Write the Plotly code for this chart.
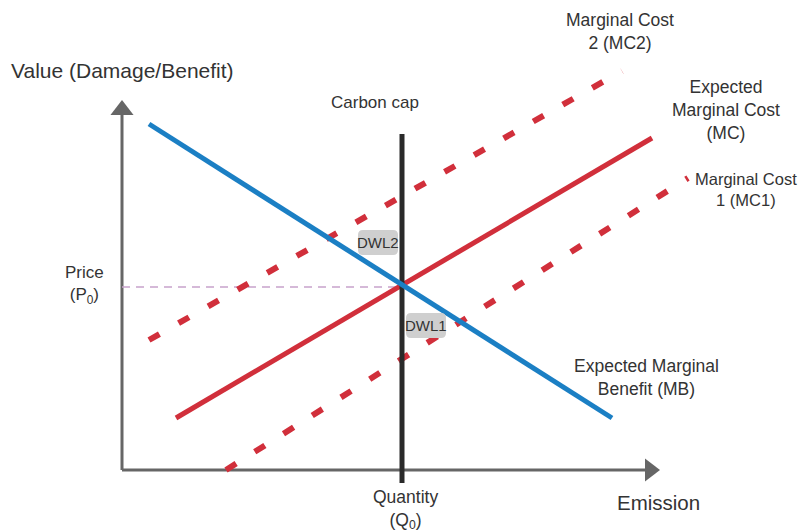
import plotly.graph_objects as go

# Diagram coordinate system (x to the right, y downward, canvas units)
W, H = 809, 531
PAGE_MARGIN = 8  # default body margin of the html page
FONT = "Liberation Sans, Arial, sans-serif"
TXT = "#333333"
RED = "#d12f3b"
BLUE = "#1b7fc4"
GRAY = "#666666"

# Axes (origin and arrow tips)
axis_origin = (122, 470)
x_axis_end = 648
y_axis_end = 112

# Curves: endpoints [x0, x1], [y0, y1]
mb_x, mb_y = [149, 612], [124, 418]          # Expected Marginal Benefit
mc_x, mc_y = [176, 652], [418, 138]          # Expected Marginal Cost
mc2_x, mc2_y = [149, 622], [340, 71]         # Marginal Cost 2
mc1_x, mc1_y = [226, 688], [470, 178]        # Marginal Cost 1
cap_x, cap_y = [402, 402], [134, 483]        # Carbon cap
price_x, price_y = [122, 402], [287, 287]    # Price P0

fig = go.Figure()

# axes lines
fig.add_trace(go.Scatter(x=[axis_origin[0], x_axis_end], y=[axis_origin[1], axis_origin[1]],
                         mode="lines", line=dict(color=GRAY, width=3), hoverinfo="skip"))
fig.add_trace(go.Scatter(x=[axis_origin[0], axis_origin[0]], y=[axis_origin[1], y_axis_end],
                         mode="lines", line=dict(color=GRAY, width=3), hoverinfo="skip"))
# arrow heads
fig.add_trace(go.Scatter(x=[x_axis_end + 2], y=[axis_origin[1]], mode="markers",
                         marker=dict(symbol="triangle-right", size=20, color=GRAY), hoverinfo="skip"))
fig.add_trace(go.Scatter(x=[axis_origin[0]], y=[y_axis_end - 2], mode="markers",
                         marker=dict(symbol="triangle-up", size=20, color=GRAY), hoverinfo="skip"))

# price dashed line
fig.add_trace(go.Scatter(x=price_x, y=price_y, mode="lines",
                         line=dict(color="#c8a2cc", width=1.5, dash="8px,6px"), hoverinfo="skip"))
# MC2, MC1 dashed
fig.add_trace(go.Scatter(x=mc2_x, y=mc2_y, mode="lines",
                         line=dict(color=RED, width=6, dash="12px,22px"), hoverinfo="skip"))
fig.add_trace(go.Scatter(x=mc1_x, y=mc1_y, mode="lines",
                         line=dict(color=RED, width=6, dash="12px,22px"), hoverinfo="skip"))
# MC solid
fig.add_trace(go.Scatter(x=mc_x, y=mc_y, mode="lines",
                         line=dict(color=RED, width=5), hoverinfo="skip"))
# Carbon cap
fig.add_trace(go.Scatter(x=cap_x, y=cap_y, mode="lines",
                         line=dict(color="#2a2a2a", width=5), hoverinfo="skip"))
# MB
fig.add_trace(go.Scatter(x=mb_x, y=mb_y, mode="lines",
                         line=dict(color=BLUE, width=5), hoverinfo="skip"))


def rounded_box(x0, y0, x1, y1, r=5):
    return (f"M {x0+r},{y0} L {x1-r},{y0} Q {x1},{y0} {x1},{y0+r} "
            f"L {x1},{y1-r} Q {x1},{y1} {x1-r},{y1} L {x0+r},{y1} "
            f"Q {x0},{y1} {x0},{y1-r} L {x0},{y0+r} Q {x0},{y0} {x0+r},{y0} Z")


dwl_labels = ["DWL2", "DWL1"]
dwl_boxes = [(358, 230, 398, 255), (406, 313, 446, 338)]
for lab, (x0, y0, x1, y1) in zip(dwl_labels, dwl_boxes):
    fig.add_shape(type="path", path=rounded_box(x0, y0, x1, y1), xref="x", yref="y",
                  fillcolor="#cfcfcf", line=dict(width=0), layer="above")
    fig.add_annotation(x=(x0 + x1) / 2, y=(y0 + y1) / 2, text=lab, showarrow=False,
                       font=dict(family=FONT, size=15, color=TXT))

labels = [
    ("Value (Damage/Benefit)", 122, 70, 21),
    ("Carbon cap", 375, 102, 17),
    ("Marginal Cost<br>2 (MC2)", 620, 31, 17.5),
    ("Expected<br>Marginal Cost<br>(MC)", 726, 110, 17.5),
    ("Marginal Cost<br>1 (MC1)", 746, 189, 16.5),
    ("Expected Marginal<br>Benefit (MB)", 646, 377, 17.5),
    ("Price<br>(P<sub>0</sub>)", 84, 285, 17),
    ("Quantity<br>(Q<sub>0</sub>)", 405, 509, 17.5),
    ("Emission", 658, 502, 20.5),
]
for text, x, y, s in labels:
    fig.add_annotation(x=x, y=y, text=text, showarrow=False, xanchor="center", yanchor="middle",
                       font=dict(family=FONT, size=s, color=TXT), align="center")

fig.update_layout(
    width=W - PAGE_MARGIN, height=H - PAGE_MARGIN, showlegend=False,
    margin=dict(l=0, r=0, t=0, b=0),
    plot_bgcolor="white", paper_bgcolor="white",
    xaxis=dict(range=[PAGE_MARGIN, W], visible=False, fixedrange=True),
    yaxis=dict(range=[H, PAGE_MARGIN], visible=False, fixedrange=True),
)
fig.write_html("out.html")
